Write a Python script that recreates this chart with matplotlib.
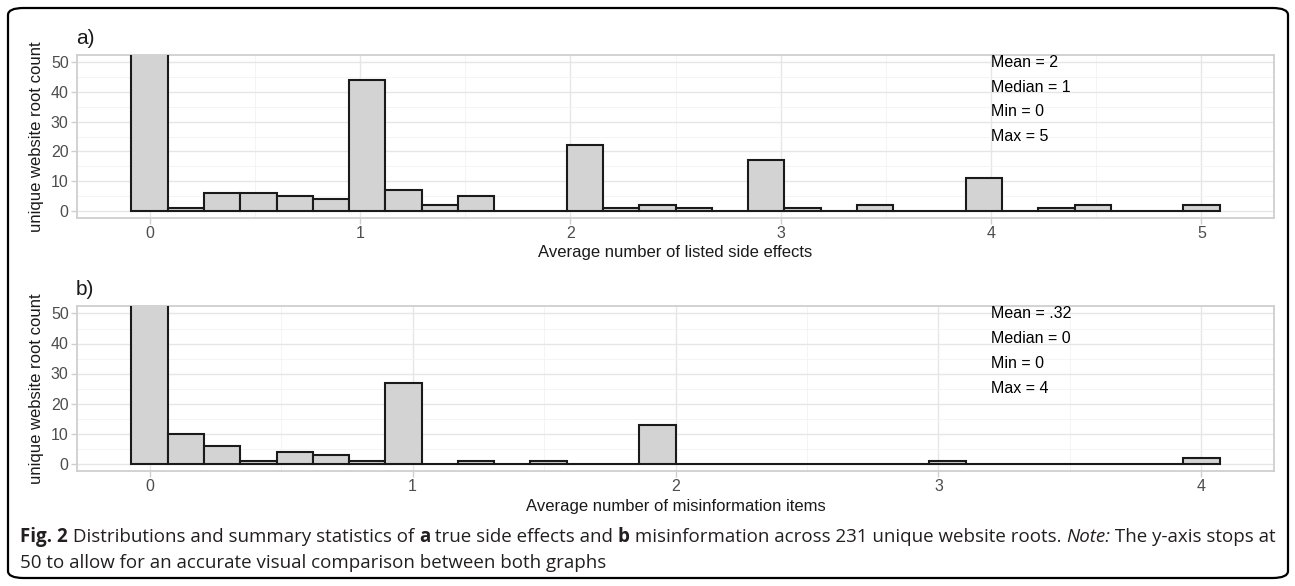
import numpy as np
import matplotlib
matplotlib.use("Agg")
import matplotlib.pyplot as plt
from matplotlib.patches import FancyBboxPatch

# ---------------- data ----------------
# panel a: 30 bins over 0..5 (counts per bin, bin centers at k*5/29)
side_effect_counts = [89, 1, 6, 6, 5, 4, 44, 7, 2, 5, 0, 0, 22, 1, 2, 1, 0, 17,
                      1, 0, 2, 0, 0, 11, 0, 1, 2, 0, 0, 2]
side_effect_range = (0, 5)
side_effect_stats = ["Mean = 2", "Median = 1", "Min = 0", "Max = 5"]

# panel b: 30 bins over 0..4
misinfo_counts = [161, 10, 6, 1, 4, 3, 1, 27, 0, 1, 0, 1, 0, 0, 13, 0, 0, 0, 0, 0,
                  0, 0, 1, 0, 0, 0, 0, 0, 0, 2]
misinfo_range = (0, 4)
misinfo_stats = ["Mean = .32", "Median = 0", "Min = 0", "Max = 4"]

panel_tags = ["a)", "b)"]
x_titles = ["Average number of listed side effects", "Average number of misinformation items"]
y_title = "unique website root count"
y_ticks = [0, 10, 20, 30, 40, 50]
stat_y = [50, 41.7, 33.4, 25.1]

caption_line1 = [("Fig. 2", "bold", "normal"),
                 (" Distributions and summary statistics of ", "normal", "normal"),
                 ("a", "bold", "normal"),
                 (" true side effects and ", "normal", "normal"),
                 ("b", "bold", "normal"),
                 (" misinformation across 231 unique website roots. ", "normal", "normal"),
                 ("Note:", "normal", "italic"),
                 (" The y-axis stops at", "normal", "normal")]
caption_line2 = "50 to allow for an accurate visual comparison between both graphs"

W, H = 1295, 586
fig = plt.figure(figsize=(W / 100, H / 100), dpi=100)
fig.patch.set_facecolor("white")

FONT = "Liberation Sans"
GRID = "#E6E6E6"
BORDER = "#CFCFCF"
TICKC = "#4D4D4D"


def px_rect(l, t, r, b):
    return [l / W, 1 - b / H, (r - l) / W, (b - t) / H]


def draw_panel(rect, counts, rng, stats, stat_x, tag, xtitle):
    ax = fig.add_axes(rect)
    n = len(counts)
    lo, hi = rng
    bw = (hi - lo) / (n - 1)
    centers = lo + bw * np.arange(n)
    ax.bar(centers, counts, width=bw, color="#D3D3D3", edgecolor="#1A1A1A",
           linewidth=1.5, zorder=3)
    span = (hi + bw / 2) - (lo - bw / 2)
    ax.set_xlim(lo - bw / 2 - 0.05 * span, hi + bw / 2 + 0.05 * span)
    ax.set_ylim(-2.5, 52.5)
    ax.set_yticks(y_ticks)
    ax.set_xticks(np.arange(lo, hi + 1))
    ax.set_yticks([5, 15, 25, 35, 45], minor=True)
    ax.set_xticks(np.arange(lo + 0.5, hi, 1.0), minor=True)
    ax.grid(True, which="major", color=GRID, linewidth=1.0, zorder=0)
    ax.grid(True, which="minor", color="#F2F2F2", linewidth=0.6, zorder=0)
    ax.set_axisbelow(True)
    for s in ax.spines.values():
        s.set_color(BORDER)
        s.set_linewidth(1.3)
    ax.tick_params(axis="both", which="major", colors=BORDER, length=4, width=1,
                   labelcolor=TICKC, labelsize=11.5, pad=2)
    ax.tick_params(axis="both", which="minor", length=0)
    ax.set_xticklabels([str(int(v)) for v in np.arange(lo, hi + 1)], fontfamily=FONT)
    ax.set_yticklabels([str(v) for v in y_ticks], fontfamily=FONT)
    ax.set_xlabel(xtitle, fontsize=12, fontfamily=FONT, color="#1A1A1A", labelpad=3)
    ax.set_ylabel(y_title, fontsize=12, fontfamily=FONT, color="#1A1A1A", labelpad=5)
    for txt, yv in zip(stats, stat_y):
        ax.text(stat_x, yv, txt, fontsize=11.5, fontfamily=FONT, color="black",
                ha="left", va="center", zorder=5)
    ax.text(-0.001, 1.04, tag, transform=ax.transAxes, fontsize=15, fontfamily=FONT,
            ha="left", va="bottom", color="#1A1A1A")
    return ax


axa = draw_panel(px_rect(77, 55, 1274, 218), side_effect_counts, side_effect_range,
                 side_effect_stats, 4.0, panel_tags[0], x_titles[0])
axb = draw_panel(px_rect(77, 306, 1274, 471), misinfo_counts, misinfo_range,
                 misinfo_stats, 3.2, panel_tags[1], x_titles[1])

# rounded outer frame
frame = FancyBboxPatch((8 / W, 8 / H), (1288 - 8) / W, (578 - 8) / H,
                       boxstyle="round,pad=0,rounding_size=0.012",
                       transform=fig.transFigure, fill=False,
                       edgecolor="black", linewidth=1.6, zorder=10)
fig.patches.append(frame)

# caption with mixed styles: measure piece widths and place sequentially
CAPF = "Open Sans"
CAPC = "#231F20"
renderer = fig.canvas.get_renderer()


def place_line(pieces, x0, ybase, fs):
    x = x0
    arts = []
    for txt, wt, st in pieces:
        t = fig.text(x / W, 1 - ybase / H, txt, fontsize=fs, fontfamily=CAPF,
                     fontweight=wt, fontstyle=st, color=CAPC, va="baseline", ha="left")
        w = t.get_window_extent(renderer).width
        arts.append(t)
        x += w
    return arts, x


# find fontsize so line 1 spans to ~1275 px
fs = 11.0
arts, xend = place_line(caption_line1, 20, 542, fs)
for a in arts:
    a.remove()
fs = fs * (1275 - 20) / (xend - 20)
arts, xend = place_line(caption_line1, 20, 542, fs)
fig.text(20 / W, 1 - 568 / H, caption_line2, fontsize=fs, fontfamily=CAPF,
         color=CAPC, va="baseline", ha="left")

fig.savefig("out.png", dpi=100, facecolor="white")
